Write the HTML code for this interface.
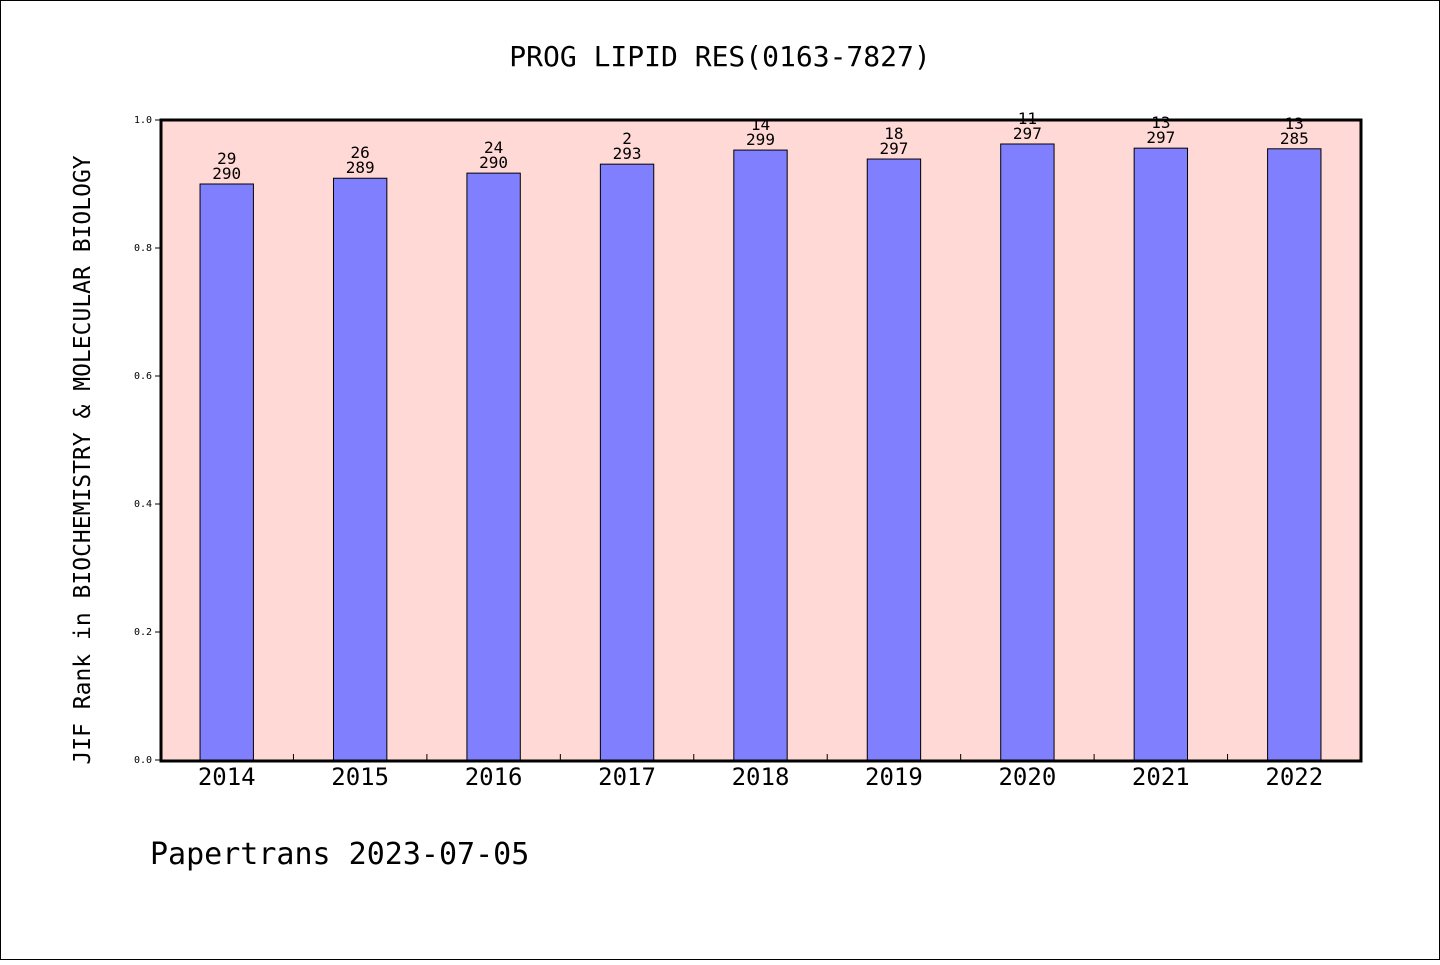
<!DOCTYPE html>
<html><head><meta charset="utf-8"><style>
body{margin:0;background:#fff}
text{font-family:"WenQuanYi Zen Hei Mono","WenQuanYi Zen Hei","DejaVu Sans Mono",monospace;fill:#000}
</style></head><body>
<svg width="1440" height="960" xmlns="http://www.w3.org/2000/svg">
<rect x="0.5" y="0.5" width="1439" height="959" fill="#fff" stroke="#000"/>
<text x="720" y="66" font-size="28" text-anchor="middle">PROG LIPID RES(0163-7827)</text>
<rect x="161" y="120" width="1200" height="641" fill="#ffd9d6"/>
<g id="bars"></g>
<rect x="161" y="120" width="1200" height="641" fill="none" stroke="#000" stroke-width="3"/>
<g id="axes"></g>
<text transform="translate(90,460) rotate(-90)" font-size="23" text-anchor="middle">JIF Rank in BIOCHEMISTRY &amp; MOLECULAR BIOLOGY</text>
<text x="150" y="864" font-size="30">Papertrans 2023-07-05</text>
</svg>
<script>
const categories=["2014","2015","2016","2017","2018","2019","2020","2021","2022"];
const values=[0.900,0.909,0.917,0.931,0.953,0.939,0.9625,0.956,0.955];
const ranks=["29","26","24","2","14","18","11","13","13"];
const totals=["290","289","290","293","299","297","297","297","285"];
const yTicks=[0,0.2,0.4,0.6,0.8,1.0];
const yTickLabels=["0.0","0.2","0.4","0.6","0.8","1.0"];
const NS="http://www.w3.org/2000/svg";
const X0=160,X1=1361,Y0=760,Y1=120;
const band=(X1-X0)/categories.length;
const xc=i=>X0+band*(i+0.5);
const y=v=>Y0-(Y0-Y1)*v;
function mk(tag,attrs,parent){const e=document.createElementNS(NS,tag);for(const k in attrs)e.setAttribute(k,attrs[k]);parent.appendChild(e);return e;}
const bars=document.getElementById('bars'),axes=document.getElementById('axes');
const bw=band*0.4;
categories.forEach((c,i)=>{
  const r=mk('rect',{x:xc(i)-bw/2,y:y(values[i]),width:bw,height:Y0-y(values[i]),fill:'#8080ff',stroke:'#000','stroke-width':1},bars);
  
  
  const t1=mk('text',{x:xc(i),y:y(values[i])-20,'font-size':16,'text-anchor':'middle'},bars);
  t1.textContent=ranks[i];
  
  
  const t2=mk('text',{x:xc(i),y:y(values[i])-5,'font-size':16,'text-anchor':'middle'},bars);
  t2.textContent=totals[i];
  
  
  const xl=mk('text',{x:xc(i),y:785,'font-size':24,'text-anchor':'middle'},axes);
  xl.textContent=c;
  
  
  if(i>0){const tk=mk('line',{x1:X0+band*i,x2:X0+band*i,y1:Y0,y2:Y0-6,stroke:'#000'},axes);
  
  }
});
yTicks.forEach((v,i)=>{
  const tk=mk('line',{x1:X0-5,x2:X0,y1:y(v),y2:y(v),stroke:'#000'},axes);
  
  
  const t=mk('text',{x:152,y:y(v)+3,'font-size':10,'text-anchor':'end'},axes);
  t.textContent=yTickLabels[i];
  
  
});
</script>
</body></html>
